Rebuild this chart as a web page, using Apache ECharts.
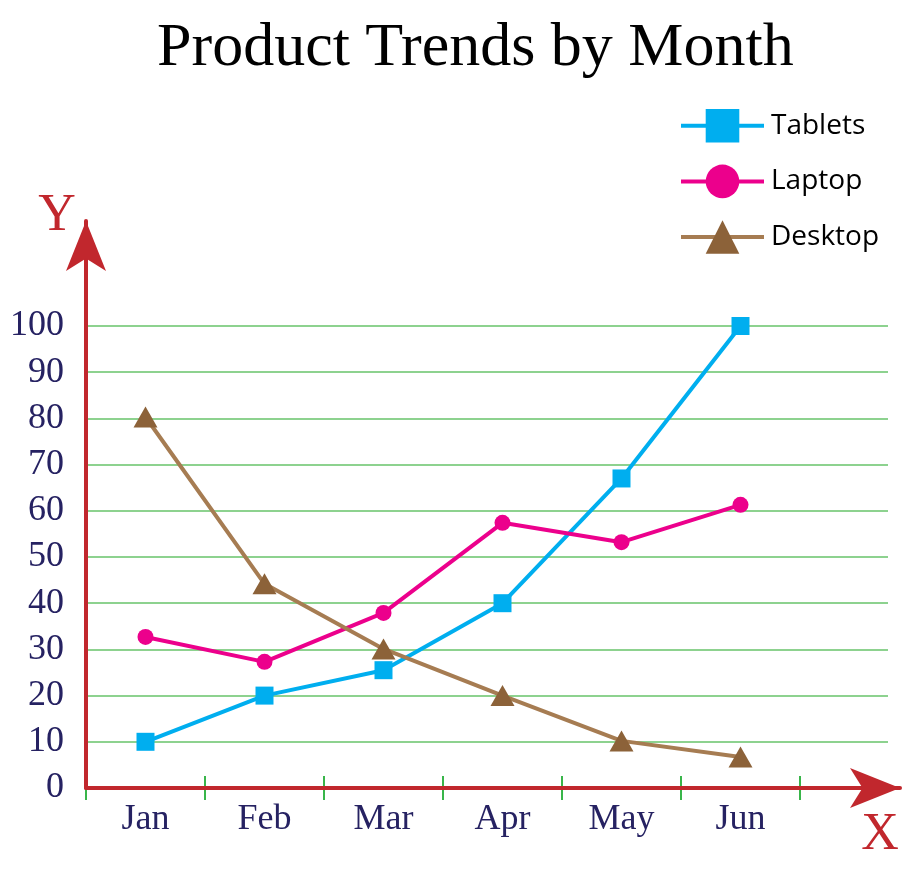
<!DOCTYPE html>
<html>
<head>
<meta charset="utf-8">
<title>Product Trends by Month</title>
<script src="https://cdn.jsdelivr.net/npm/echarts@6/dist/echarts.min.js"></script>
<style>
    html, body { margin: 0; padding: 0; background: #fff; }
    #chart { width: 919px; height: 869px; }
</style>
</head>
<body>
<div id="chart"></div>
<script>
var months = ['Jan', 'Feb', 'Mar', 'Apr', 'May', 'Jun'];
var tablets = [10, 20, 25.5, 40, 67, 100];
var laptop = [32.7, 27.3, 37.9, 57.4, 53.2, 61.3];
var desktop = [80.3, 44.2, 30.1, 20, 10.2, 6.7];
var yTicks = [0, 100, 10];   // min, max, step

var serif = '"Liberation Serif", "Times New Roman", serif';
var navy = '#262262';
var red = '#C1272D';
var tickGreen = '#39B54A';

var option = {
    animation: false,
    backgroundColor: '#fff',
    title: {
        text: 'Product Trends by Month',
        left: 152,
        top: 13,
        textStyle: {fontFamily: serif, fontSize: 62, fontWeight: 'normal', color: '#000'}
    },
    legend: {
        orient: 'vertical',
        left: 674,
        top: 104,
        itemWidth: 83,
        itemHeight: 42,
        itemGap: 22,
        lineStyle: {width: 4},
        textStyle: {fontFamily: '"Open Sans", "Noto Sans", sans-serif', fontSize: 28, color: '#000', padding: [0, 0, 0, 2]},
        data: ['Tablets', 'Laptop', 'Desktop']
    },
    grid: [
        // data area: six month slots
        {left: 86, top: 326, width: 714, bottom: 81},
        // gridlines and y labels
        {left: 86, top: 326, right: 31, bottom: 81},
        // red axes with arrows
        {left: 86, top: 221, right: 19, bottom: 81}
    ],
    xAxis: [
        {
            gridIndex: 0, type: 'category', data: months, boundaryGap: true, position: 'bottom',
            axisLine: {show: false},
            axisTick: {show: true, length: 12, lineStyle: {color: tickGreen, width: 2}},
            axisLabel: {fontFamily: serif, fontSize: 36, color: navy, margin: 14}
        },
        {
            gridIndex: 0, type: 'category', data: months, boundaryGap: true, position: 'bottom',
            axisLine: {show: false},
            axisTick: {show: true, inside: true, length: 12, lineStyle: {color: tickGreen, width: 2}},
            axisLabel: {show: false}
        },
        {
            gridIndex: 1, type: 'value', show: false
        },
        {
            gridIndex: 2, type: 'value', min: 0, max: 1, z: 10,
            name: 'X', nameLocation: 'end', nameGap: -20,
            nameTextStyle: {fontFamily: serif, fontSize: 52, color: red, align: 'center', verticalAlign: 'top', padding: [21, 0, 0, 0]},
            axisLine: {show: true, symbol: ['none', 'arrow'], symbolSize: [30, 50], lineStyle: {color: red, width: 4}},
            axisTick: {show: false}, axisLabel: {show: false}, splitLine: {show: false}
        }
    ],
    yAxis: [
        {
            gridIndex: 0, type: 'value', min: yTicks[0], max: yTicks[1], interval: yTicks[2],
            show: false
        },
        {
            gridIndex: 1, type: 'value', min: yTicks[0], max: yTicks[1], interval: yTicks[2],
            axisLine: {show: false}, axisTick: {show: false},
            axisLabel: {fontFamily: serif, fontSize: 36, color: navy, margin: 22},
            splitLine: {show: true, lineStyle: {color: '#8DD28F', width: 2}}
        },
        {
            gridIndex: 2, type: 'value', min: 0, max: 1, z: 10,
            name: 'Y', nameLocation: 'end', nameGap: -21,
            nameTextStyle: {fontFamily: serif, fontSize: 52, color: red, align: 'center', padding: [0, 58, 0, 0]},
            axisLine: {show: true, symbol: ['none', 'arrow'], symbolSize: [30, 50], lineStyle: {color: red, width: 4}},
            axisTick: {show: false}, axisLabel: {show: false}, splitLine: {show: false}
        }
    ],
    series: [
        {
            name: 'Tablets', type: 'line', xAxisIndex: 0, yAxisIndex: 0,
            data: tablets, symbol: 'rect', symbolSize: 18,
            lineStyle: {color: '#00AEEF', width: 4},
            itemStyle: {color: '#00AEEF'}
        },
        {
            name: 'Laptop', type: 'line', xAxisIndex: 0, yAxisIndex: 0,
            data: laptop, symbol: 'circle', symbolSize: 16,
            lineStyle: {color: '#EC008C', width: 4},
            itemStyle: {color: '#EC008C'}
        },
        {
            name: 'Desktop', type: 'line', xAxisIndex: 0, yAxisIndex: 0,
            data: desktop, symbol: 'triangle', symbolSize: [24, 21],
            lineStyle: {color: '#A67C52', width: 4},
            itemStyle: {color: '#8C6239'}
        }
    ]
};

var chart = echarts.init(document.getElementById('chart'));
chart.setOption(option);
</script>
</body>
</html>
